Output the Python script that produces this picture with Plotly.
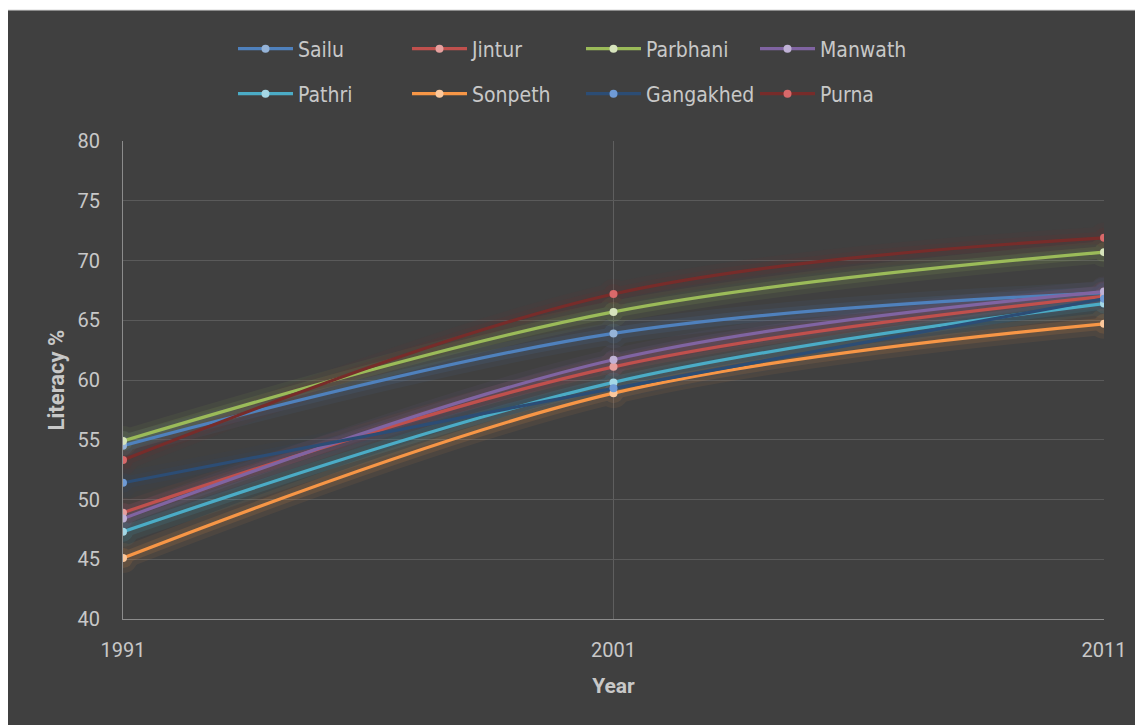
import plotly.graph_objects as go

years = [1991, 2001, 2011]
talukas = ["Sailu", "Jintur", "Parbhani", "Manwath", "Pathri", "Sonpeth", "Gangakhed", "Purna"]
sailu = [54.5, 63.9, 67.3]
jintur = [48.9, 61.1, 67.0]
parbhani = [54.9, 65.7, 70.7]
manwath = [48.4, 61.7, 67.4]
pathri = [47.3, 59.8, 66.4]
sonpeth = [45.1, 58.9, 64.7]
gangakhed = [51.4, 59.3, 66.8]
purna = [53.3, 67.2, 71.9]
values = [sailu, jintur, parbhani, manwath, pathri, sonpeth, gangakhed, purna]

line_colors = ["#4f81bd", "#c0504d", "#9bbb59", "#8064a2", "#4bacc6", "#f79646", "#2c4d75", "#772c2a"]
marker_colors = ["#95b3d7", "#e6a09e", "#d7e4bd", "#c0b2d6", "#a5d8e6", "#fcc89c", "#6f9bd6", "#d9696a"]

OFF = 8  # page body margin
W, H = 1143 - OFF, 725 - OFF
ML, MT = 123 - OFF, 141 - OFF
MR, MB = W - (1104 - OFF), H - (619 - OFF)
PW, PH = W - ML - MR, H - MT - MB

def px_x(p):
    return (p - OFF - ML) / PW

def px_y(p):
    return (H - MB - (p - OFF)) / PH

fig = go.Figure()

# glow layers
for name, vals, lc in zip(talukas, values, line_colors):
    for w, op in ((22, 0.07), (12, 0.12)):
        fig.add_trace(go.Scatter(
            x=years, y=vals, mode="lines+markers",
            line=dict(color=lc, width=w, shape="spline", smoothing=1),
            marker=dict(size=w + 8, color=lc),
            opacity=op, showlegend=False, hoverinfo="skip"))

for i, (name, vals, lc, mc) in enumerate(zip(talukas, values, line_colors, marker_colors)):
    fig.add_trace(go.Scatter(
        x=years, y=vals, name=name, mode="lines+markers",
        line=dict(color=lc, width=3.2, shape="spline", smoothing=1),
        marker=dict(size=8, color=mc),
        legend="legend" if i < 4 else "legend2"))

legend_font = dict(family="Liberation Sans Narrow, DejaVu Sans Condensed, Roboto Condensed, Roboto, sans-serif",
                   size=21, color="#c8c8c8")
legend_common = dict(
    orientation="h", xanchor="left", yanchor="middle",
    font=legend_font,
    bgcolor="rgba(0,0,0,0)", entrywidth=104, entrywidthmode="pixels",
    itemwidth=55, tracegroupgap=0,
)

fig.update_layout(
    width=W, height=H,
    margin=dict(l=ML, r=MR, t=MT, b=MB),
    paper_bgcolor="white",
    plot_bgcolor="#404040",
    font=dict(family="Roboto, sans-serif", color="#c8c8c8"),
    legend=dict(x=px_x(233), y=px_y(49), **legend_common),
    legend2=dict(x=px_x(233), y=px_y(94), **legend_common),
    shapes=[dict(type="rect", xref="paper", yref="paper",
                 x0=px_x(6), x1=px_x(1145), y0=px_y(727), y1=px_y(10),
                 fillcolor="#404040", line=dict(color="#d9d9d9", width=1), layer="below")],
    xaxis=dict(
        range=[1991, 2011], tickvals=years, ticktext=[str(y) for y in years],
        showgrid=True, gridcolor="#5f5f5f", gridwidth=1,
        showline=True, linecolor="#8c8c8c", linewidth=1, zeroline=False,
        ticks="", ticklabelstandoff=13,
        tickfont=dict(family="Roboto, sans-serif", size=20, color="#c8c8c8"),
        title=dict(text="<b>Year</b>", standoff=17,
                   font=dict(family="Roboto, sans-serif", size=21, color="#c8c8c8")),
    ),
    yaxis=dict(
        range=[40, 80], dtick=5,
        showgrid=True, gridcolor="#5a5a5a", gridwidth=1,
        showline=True, linecolor="#8c8c8c", linewidth=1, zeroline=False,
        ticks="", ticklabelstandoff=18,
        tickfont=dict(family="Roboto, sans-serif", size=20, color="#c8c8c8"),
        title=dict(text="<b>Literacy %</b>", standoff=6,
                   font=dict(family="Roboto, sans-serif", size=22, color="#c8c8c8")),
    ),
)

fig.write_html("out.html")
